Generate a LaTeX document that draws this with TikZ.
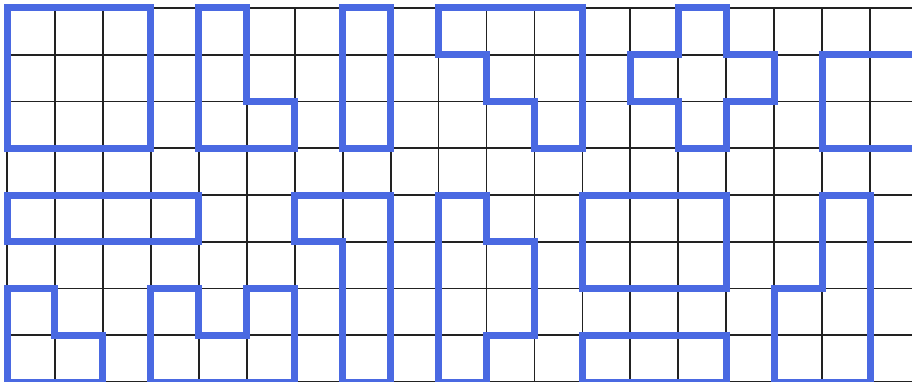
\documentclass[tikz,border=0pt]{standalone}
\definecolor{shapeblue}{RGB}{74,105,226}
\definecolor{gridline}{RGB}{34,34,34}
\tikzset{
  gridstroke/.style={draw=gridline, line width=1.8pt},
  piece/.style={draw=shapeblue, line width=7pt, line join=miter, line cap=square}
}
\begin{document}
\begin{tikzpicture}
\fill[white] (0pt,0pt) rectangle (912pt,-382pt);
\useasboundingbox (0pt,0pt) rectangle (912pt,-382pt);
\clip (0pt,0pt) rectangle (912pt,-382pt);
\begin{scope}[shift={(7pt,-8pt)}, x=47.95pt, y=-46.75pt]
  % grid
  \foreach \j in {0,...,8} \draw[gridstroke] (0,\j) -- (19.5,\j);
  \foreach \i in {0,...,18} \draw[gridstroke] (\i,0) -- (\i,8.2);
  % pieces, top band
  \draw[piece] (0,0) rectangle (3,3);
  \draw[piece] (4,0) -- (5,0) -- (5,2) -- (6,2) -- (6,3) -- (4,3) -- cycle;
  \draw[piece] (7,0) rectangle (8,3);
  \draw[piece] (9,0) -- (12,0) -- (12,3) -- (11,3) -- (11,2) -- (10,2) -- (10,1) -- (9,1) -- cycle;
  \draw[piece] (14,0) -- (15,0) -- (15,1) -- (16,1) -- (16,2) -- (15,2) -- (15,3) -- (14,3) -- (14,2) -- (13,2) -- (13,1) -- (14,1) -- cycle;
  \draw[piece] (19.5,1) -- (17,1) -- (17,3) -- (19.5,3);
  % pieces, bottom band
  \draw[piece] (0,4) rectangle (4,5);
  \draw[piece] (0,6) -- (1,6) -- (1,7) -- (2,7) -- (2,8) -- (0,8) -- cycle;
  \draw[piece] (3,6) -- (4,6) -- (4,7) -- (5,7) -- (5,6) -- (6,6) -- (6,8) -- (3,8) -- cycle;
  \draw[piece] (6,4) -- (8,4) -- (8,8) -- (7,8) -- (7,5) -- (6,5) -- cycle;
  \draw[piece] (9,4) -- (10,4) -- (10,5) -- (11,5) -- (11,7) -- (10,7) -- (10,8) -- (9,8) -- cycle;
  \draw[piece] (12,4) rectangle (15,6);
  \draw[piece] (12,7) rectangle (15,8);
  \draw[piece] (17,4) -- (18,4) -- (18,8) -- (16,8) -- (16,6) -- (17,6) -- cycle;
\end{scope}
\end{tikzpicture}
\end{document}
